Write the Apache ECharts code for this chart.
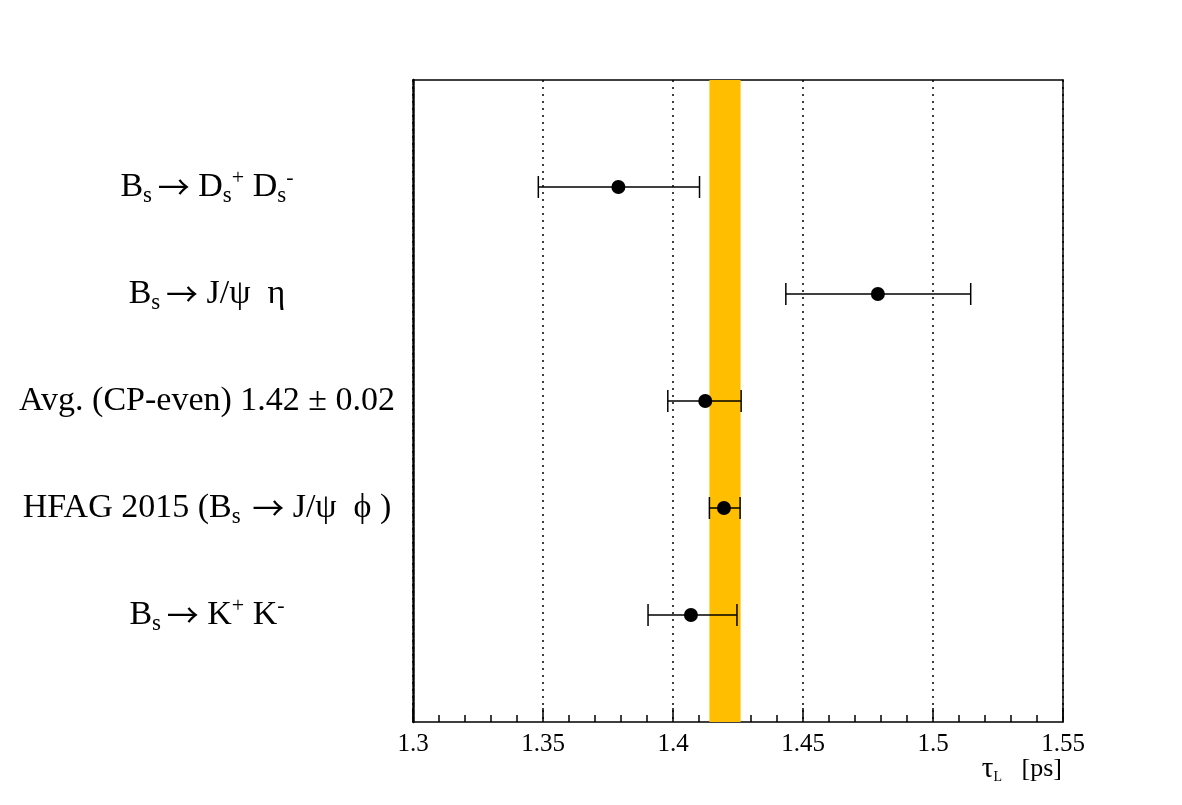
<!DOCTYPE html>
<html>
<head>
<meta charset="utf-8">
<script src="https://cdn.jsdelivr.net/npm/echarts@6/dist/echarts.min.js"></script>
<style>
  html, body { margin: 0; padding: 0; background: #fff; }
  #chart { width: 1182px; height: 805px; }
</style>
</head>
<body>
<div id="chart"></div>
<script>
// rows from top to bottom, placed at y = 5 .. 1
const ROW_LABELS = [
  "{m|B}{sub|s }{arr|→}{m| D}{sub|s}{sup|+}{m| D}{sub|s}{sup|-}",
  "{m|B}{sub|s }{arr|→}{m| J/ψ  η}",
  "{m|Avg. (CP-even) 1.42 ± 0.02}",
  "{m|HFAG 2015 (B}{sub|s  }{arr|→}{m| J/ψ  ϕ )}",
  "{m|B}{sub|s }{arr|→}{m| K}{sup|+}{m| K}{sup|-}"
];
const ROW_POS = [5, 4, 3, 2, 1];
const TAU = [1.379, 1.4788, 1.4124, 1.4196, 1.4069];
const TAU_LO = [1.3482, 1.4434, 1.3980, 1.4140, 1.3904];
const TAU_HI = [1.4102, 1.5145, 1.4262, 1.4258, 1.4246];
const BAND = [1.4140, 1.4260];

const serif = "'Liberation Serif', 'DejaVu Serif', serif";

const chart = echarts.init(document.getElementById("chart"), null, { renderer: "canvas" });

const points = TAU.map((v, i) => [v, ROW_POS[i]]);
const bars = TAU.map((v, i) => [TAU_LO[i], TAU_HI[i], ROW_POS[i]]);

function renderErrorBar(params, api) {
  const lo = api.coord([api.value(0), api.value(2)]);
  const hi = api.coord([api.value(1), api.value(2)]);
  const cap = 11;
  const style = { stroke: "#000", lineWidth: 1.5 };
  return {
    type: "group",
    children: [
      { type: "line", shape: { x1: lo[0], y1: lo[1], x2: hi[0], y2: hi[1] }, style },
      { type: "line", shape: { x1: lo[0], y1: lo[1] - cap, x2: lo[0], y2: lo[1] + cap }, style },
      { type: "line", shape: { x1: hi[0], y1: hi[1] - cap, x2: hi[0], y2: hi[1] + cap }, style }
    ]
  };
}

const frameLine = { show: true, onZero: false, lineStyle: { color: "#000", width: 1.5 } };

chart.setOption({
  animation: false,
  grid: { left: 413, right: 119, top: 80, bottom: 83, show: false },
  xAxis: [
    {
      type: "value",
      min: 1.3, max: 1.55, interval: 0.05,
      axisLine: frameLine,
      axisTick: { inside: true, length: 14, lineStyle: { color: "#000", width: 1.5 } },
      minorTick: { show: true, splitNumber: 5, length: 7, lineStyle: { color: "#000", width: 1.5 } },
      splitLine: { show: true, lineStyle: { color: "#000", width: 1.5, type: [2, 5] } },
      axisLabel: { color: "#000", fontFamily: serif, fontSize: 25, margin: 10 },
      name: "{t|τ}{sub|L}{m|   [ps]}",
      nameLocation: "end",
      nameGap: -1,
      nameMoveOverlap: false,
      nameTextStyle: {
        align: "right", verticalAlign: "top", padding: [32, 0, 0, 0],
        rich: {
          t: { fontFamily: serif, fontSize: 29, color: "#000", lineHeight: 30 },
          m: { fontFamily: serif, fontSize: 26, color: "#000", lineHeight: 30 },
          sub: { fontFamily: serif, fontSize: 14, color: "#000", verticalAlign: "bottom", lineHeight: 6 }
        }
      }
    },
    {
      type: "value",
      position: "top",
      min: 1.3, max: 1.55,
      axisLine: frameLine,
      axisTick: { show: false },
      axisLabel: { show: false },
      splitLine: { show: false }
    }
  ],
  yAxis: [
    {
      type: "value",
      min: 0, max: 6, interval: 1,
      axisLine: { show: true, onZero: false, lineStyle: { color: "#000", width: 2.5, type: [6, 1] } },
      axisTick: { show: false },
      splitLine: { show: false },
      axisLabel: {
        margin: 206,
        align: "center",
        formatter: (v) => {
          const i = ROW_POS.indexOf(v);
          return i >= 0 ? ROW_LABELS[i] : "";
        },
        rich: {
          m: { fontFamily: serif, fontSize: 34, color: "#000", lineHeight: 40 },
          arr: { fontFamily: "'Noto Sans CJK SC', 'DejaVu Sans', sans-serif", fontSize: 32, color: "#000", lineHeight: 40 },
          sub: { fontFamily: serif, fontSize: 23, color: "#000", verticalAlign: "bottom", lineHeight: 15 },
          sup: { fontFamily: serif, fontSize: 22, color: "#000", verticalAlign: "top", lineHeight: 20 }
        }
      }
    },
    {
      type: "value",
      position: "right",
      min: 0, max: 6,
      axisLine: frameLine,
      axisTick: { show: false },
      axisLabel: { show: false },
      splitLine: { show: false }
    }
  ],
  series: [
    {
      name: "band",
      type: "scatter",
      data: [],
      z: 1,
      silent: true,
      markArea: {
        silent: true,
        itemStyle: { color: "#ffbf00", opacity: 1 },
        data: [[{ xAxis: BAND[0] }, { xAxis: BAND[1] }]]
      }
    },
    {
      name: "errors",
      type: "custom",
      renderItem: renderErrorBar,
      data: bars,
      encode: { x: [0, 1], y: 2 },
      z: 3
    },
    {
      name: "tau",
      type: "scatter",
      data: points,
      symbol: "circle",
      symbolSize: 14,
      itemStyle: { color: "#000", opacity: 1 },
      z: 4
    }
  ]
});
</script>
</body>
</html>
